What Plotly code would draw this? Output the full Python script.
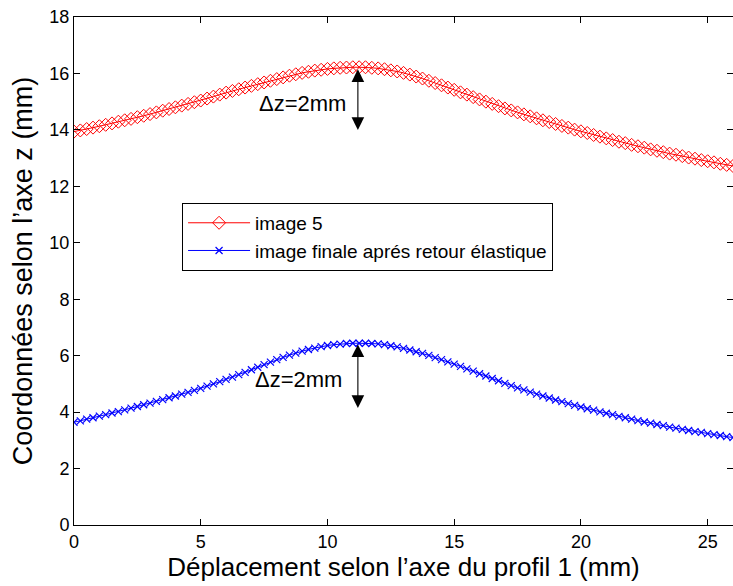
import plotly.graph_objects as go

# x positions (mm) along profile 1, step 0.25 mm
x_vals = [i * 0.25 for i in range(105)]

# "image 5" (red, diamonds)
image5_z = [
    13.94, 13.98, 14.03, 14.08, 14.13, 14.18, 14.23, 14.29, 14.34, 14.39,
    14.45, 14.50, 14.56, 14.62, 14.68, 14.74, 14.80, 14.86, 14.92, 14.98,
    15.04, 15.11, 15.18, 15.25, 15.32, 15.38, 15.44, 15.50, 15.56, 15.62,
    15.68, 15.74, 15.80, 15.86, 15.92, 15.97, 16.02, 16.06, 16.10, 16.13,
    16.16, 16.18, 16.20, 16.21, 16.22, 16.22, 16.22, 16.20, 16.18, 16.15,
    16.11, 16.07, 16.02, 15.96, 15.89, 15.82, 15.74, 15.66, 15.58, 15.50,
    15.42, 15.33, 15.25, 15.16, 15.08, 15.00, 14.92, 14.84, 14.76, 14.69,
    14.62, 14.55, 14.48, 14.41, 14.34, 14.28, 14.21, 14.14, 14.08, 14.01,
    13.95, 13.89, 13.82, 13.76, 13.70, 13.64, 13.58, 13.53, 13.47, 13.42,
    13.37, 13.31, 13.26, 13.21, 13.16, 13.12, 13.07, 13.02, 12.98, 12.93,
    12.89, 12.85, 12.80, 12.76, 12.72,
]

# "image finale aprés retour élastique" (blue, x markers)
final_z = [
    3.64, 3.69, 3.75, 3.80, 3.86, 3.91, 3.97, 4.02, 4.08, 4.14,
    4.20, 4.26, 4.32, 4.38, 4.44, 4.51, 4.57, 4.64, 4.70, 4.77,
    4.84, 4.92, 5.00, 5.08, 5.16, 5.24, 5.33, 5.41, 5.50, 5.59,
    5.68, 5.77, 5.86, 5.94, 6.02, 6.09, 6.16, 6.22, 6.27, 6.32,
    6.36, 6.39, 6.41, 6.43, 6.44, 6.44, 6.44, 6.43, 6.42, 6.39,
    6.35, 6.31, 6.26, 6.20, 6.14, 6.08, 6.01, 5.93, 5.86, 5.78,
    5.70, 5.62, 5.53, 5.45, 5.36, 5.28, 5.19, 5.11, 5.02, 4.94,
    4.86, 4.79, 4.71, 4.64, 4.57, 4.50, 4.43, 4.37, 4.30, 4.24,
    4.18, 4.12, 4.07, 4.01, 3.96, 3.91, 3.85, 3.80, 3.75, 3.70,
    3.65, 3.61, 3.56, 3.52, 3.47, 3.43, 3.39, 3.35, 3.31, 3.28,
    3.24, 3.20, 3.17, 3.13, 3.10,
]

series_names = ["image 5", "image finale aprés retour élastique"]

# Δz arrows: (x, z_top, z_bottom) and label positions
arrow_x = [11.2, 11.2]
arrow_top = [16.2, 6.45]
arrow_bottom = [14.0, 4.15]
label_x = [9.0, 8.87]
label_z = [14.95, 5.14]
label_text = ["Δz=2mm", "Δz=2mm"]

FONT = "Liberation Sans, Arial, Helvetica, sans-serif"

fig = go.Figure()
fig.add_trace(go.Scatter(
    x=x_vals, y=image5_z, mode="lines+markers", name=series_names[0],
    line=dict(color="#ff0000", width=1),
    marker=dict(symbol="diamond-open", size=10, color="#ff0000",
                line=dict(color="#ff0000", width=1)),
))
fig.add_trace(go.Scatter(
    x=x_vals, y=final_z, mode="lines+markers", name=series_names[1],
    line=dict(color="#0000ff", width=1),
    marker=dict(symbol="x-thin-open", size=7, color="#0000ff",
                line=dict(color="#0000ff", width=1.2)),
))

annotations = []
for i in range(2):
    annotations.append(dict(
        x=arrow_x[i], y=arrow_bottom[i], ax=arrow_x[i], ay=arrow_top[i],
        xref="x", yref="y", axref="x", ayref="y",
        showarrow=True, arrowhead=2, startarrowhead=2, arrowside="end+start",
        arrowsize=2.3, startarrowsize=2.3, arrowwidth=1.1, arrowcolor="black",
        text="", standoff=0, startstandoff=0,
    ))
    annotations.append(dict(
        x=label_x[i], y=label_z[i], xref="x", yref="y", text=label_text[i],
        showarrow=False, font=dict(family=FONT, size=22, color="black"),
    ))

fig.update_layout(
    width=733, height=586,
    margin=dict(l=74, r=0, t=17, b=61),
    paper_bgcolor="white", plot_bgcolor="white",
    font=dict(family=FONT, color="black"),
    showlegend=True,
    legend=dict(
        x=0.164, y=0.634, xanchor="left", yanchor="top",
        bgcolor="white", bordercolor="black", borderwidth=1,
        font=dict(family=FONT, size=19, color="black"),
        itemwidth=62, tracegroupgap=0,
    ),
    annotations=annotations,
)
fig.update_xaxes(
    range=[0, 26], tickmode="array", tickvals=[0, 5, 10, 15, 20, 25],
    showline=True, linecolor="black", linewidth=1, mirror="ticks",
    ticks="inside", ticklen=6, tickcolor="black",
    showgrid=False, zeroline=False, automargin=False,
    tickfont=dict(family=FONT, size=18, color="black"),
    title=dict(text="Déplacement selon l’axe du profil 1 (mm)",
               font=dict(family=FONT, size=26, color="black"), standoff=4),
)
fig.update_yaxes(
    range=[0, 18], tickmode="array", tickvals=[0, 2, 4, 6, 8, 10, 12, 14, 16, 18],
    showline=True, linecolor="black", linewidth=1, mirror="ticks",
    ticks="inside", ticklen=6, tickcolor="black",
    showgrid=False, zeroline=False, automargin=False,
    tickfont=dict(family=FONT, size=18, color="black"),
    title=dict(text="Coordonnées selon l’axe z (mm)",
               font=dict(family=FONT, size=27, color="black"), standoff=8),
)

# remove the default 8px page margin so the figure fills the window exactly
fig.write_html("out.html", config={"displayModeBar": False},
               post_script="document.body.style.margin='0px';")
